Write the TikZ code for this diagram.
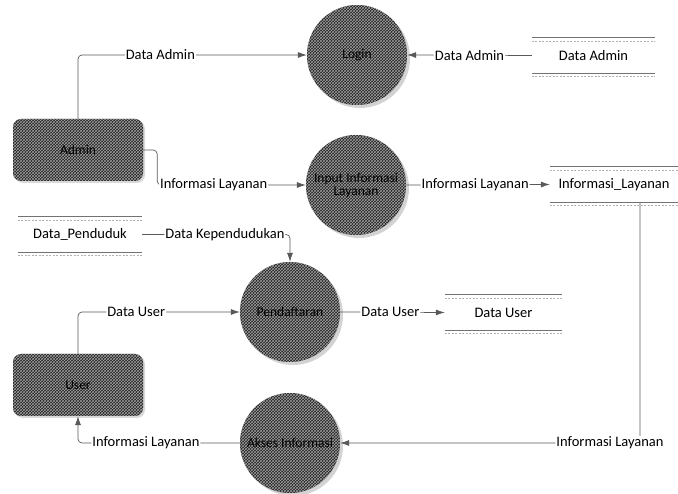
\documentclass[tikz,border=0pt]{standalone}
\usepackage{fontspec}
\setmainfont{Carlito}
\usetikzlibrary{arrows.meta,patterns,shadows}
\begin{document}
\begin{tikzpicture}[x=1pt,y=-1pt,
  every node/.style={font=\fontsize{14.5}{16}\selectfont},
  proc/.style={circle, minimum size=100pt, inner sep=0pt,
    drop shadow={opacity=0.35, shadow xshift=3pt, shadow yshift=-3pt},
    preaction={fill=black!88}, pattern=crosshatch, pattern color=gray!75,
    text=black, align=center, font=\fontsize{13.5}{13}\selectfont},
  ent/.style={rectangle, rounded corners=8pt, minimum width=130pt, minimum height=62pt,
    drop shadow={opacity=0.3, shadow xshift=2pt, shadow yshift=-2pt},
    preaction={fill=black!88}, pattern=crosshatch, pattern color=gray!75,
    text=black, font=\fontsize{13.5}{13}\selectfont},
  store/.style={minimum height=35pt, inner sep=0pt},
  sline/.style={draw=black!55, line width=0.9pt},
  sdash/.style={draw=black!30, line width=0.5pt, dash pattern=on 2pt off 1.5pt},
  flow/.style={draw=black!65, line width=0.7pt, rounded corners=4pt, -{Latex[length=9pt,width=6pt]}},
  lbl/.style={fill=white, inner sep=1pt, text=black}]
\useasboundingbox (0,0) rectangle (678,494);

% processes
\node[proc] (login) at (357,55) {Login};
\node[proc] (input) at (356,185) {Input Informasi\\Layanan};
\node[proc] (pend) at (290,312) {Pendaftaran};
\node[proc] (akses) at (290,443) {Akses Informasi};

% entities
\node[ent] (admin) at (78,150) {Admin};
\node[ent] (user) at (78,385) {User};

% data stores
\node[store, minimum width=123pt] (da) at (593.5,55.5) {Data Admin};
\node[store, minimum width=128pt] (il) at (614,184.5) {Informasi\_Layanan};
\node[store, minimum width=124pt] (dp) at (80,234.5) {Data\_Penduduk};
\node[store, minimum width=117pt] (du) at (503.5,312.5) {Data User};
\foreach \s in {da,il,dp,du}{
  \draw[sline] (\s.north west) -- (\s.north east);
  \draw[sdash] ([yshift=-3pt]\s.north west) -- ([yshift=-3pt]\s.north east);
  \draw[sline] (\s.south west) -- (\s.south east);
  \draw[sdash] ([yshift=-3pt]\s.south west) -- ([yshift=-3pt]\s.south east);
}

% flows
\draw[flow] (admin.north) |- node[lbl, pos=0.68] {Data Admin} (login.west);
\draw[flow] (da.west) -- node[lbl, pos=0.5] {Data Admin} (login.east);
\coordinate (aturn) at ([xshift=14pt]admin.east);
\draw[flow] (admin.east) -- (aturn) |- node[lbl, pos=0.69] {Informasi Layanan} (input.west);
\draw[flow] (input.east) -- node[lbl, pos=0.48] {Informasi Layanan} (il.west);
\draw[flow] (dp.east) -| node[lbl, pos=0.28] {Data Kependudukan} (pend.north);
\draw[flow] (user.north) |- node[lbl, pos=0.68] {Data User} (pend.west);
\draw[flow] (pend.east) -- node[lbl, pos=0.48] {Data User} (du.west);
\coordinate (ildown) at ([xshift=26pt]il.south);
\draw[flow] (ildown) |- node[lbl, pos=0.55] {Informasi Layanan} (akses.east);
\draw[flow] (akses.west) -| node[lbl, pos=0.29] {Informasi Layanan} (user.south);
\end{tikzpicture}
\end{document}
